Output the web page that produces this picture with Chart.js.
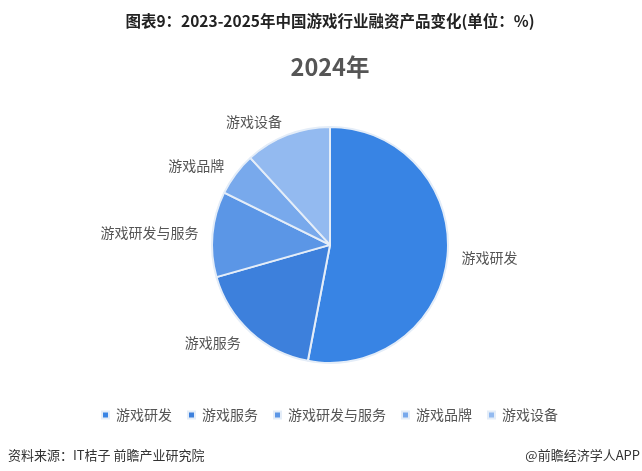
<!DOCTYPE html>
<html>
<head>
<meta charset="utf-8">
<script src="https://cdn.jsdelivr.net/npm/chart.js@4"></script>
<style>
  body { margin: 0; background: #fff; }
  #wrap { position: relative; width: 642px; height: 471px; font-family: "Noto Sans CJK SC", "Noto Sans", sans-serif; }
  #myChart { position: absolute; left: 0; top: 0; }
  .foot { position: absolute; top: 445px; font-size: 13px; color: #333; line-height: 19px; }
</style>
</head>
<body>
<div id="wrap">
  <canvas id="myChart" width="642" height="471"></canvas>
  <div class="foot" style="left:8px">资料来源：IT桔子 前瞻产业研究院</div>
  <div class="foot" style="right:2px">@前瞻经济学人APP</div>
</div>
<script>
// 类别
var labels = ['游戏研发', '游戏服务', '游戏研发与服务', '游戏品牌', '游戏设备']
// 占比 (%)
var data = [53, 17.6, 11.7, 5.9, 11.8]
var colores = ['#3884e4', '#3d80dc', '#5b96e6', '#78a9ec', '#93baf0']

var fuente = '"Noto Sans CJK SC", "Noto Sans", sans-serif'

// etiquetas fuera del pastel
var etiquetas = {
  id: 'etiquetas',
  afterDatasetsDraw: function(chart) {
    var ctx = chart.ctx
    var meta = chart.getDatasetMeta(0)
    ctx.save()
    ctx.font = '14px ' + fuente
    ctx.fillStyle = '#555'
    ctx.textBaseline = 'middle'
    meta.data.forEach(function(arc, i) {
      var p = arc.getProps(['x', 'y', 'startAngle', 'endAngle', 'outerRadius'], true)
      var mid = (p.startAngle + p.endAngle) / 2
      var r = p.outerRadius * 1.12
      var x = p.x + Math.cos(mid) * r
      var y = p.y + Math.sin(mid) * r
      ctx.textAlign = Math.cos(mid) >= 0 ? 'left' : 'right'
      ctx.fillText(labels[i], x, y)
    })
    ctx.restore()
  }
}

var ctx = document.getElementById('myChart').getContext('2d');
var myChart = new Chart(ctx, {
  type: 'pie',
  data: {
    labels: labels,
    datasets: [{
      data: data,
      backgroundColor: colores,
      borderColor: '#e4edf8',
      borderWidth: 2,
      radius: 118
    }]
  },
  options: {
    responsive: false,
    animation: false,
    layout: { padding: { left: 18, bottom: 39 } },
    plugins: {
      title: {
        display: true,
        text: '图表9：2023-2025年中国游戏行业融资产品变化(单位：%)',
        color: '#222',
        font: { family: fuente, size: 15.5, weight: 'bold' },
        padding: { top: 12, bottom: 0 }
      },
      subtitle: {
        display: true,
        text: '2024年',
        color: '#555',
        font: { family: fuente, size: 23.5, weight: 'bold' },
        padding: { top: 22, bottom: 17 }
      },
      legend: {
        position: 'bottom',
        labels: {
          color: '#555',
          font: { family: fuente, size: 14 },
          boxWidth: 7,
          boxHeight: 7,
          padding: 16
        }
      },
      tooltip: { enabled: false }
    }
  },
  plugins: [etiquetas]
});
</script>
</body>
</html>
